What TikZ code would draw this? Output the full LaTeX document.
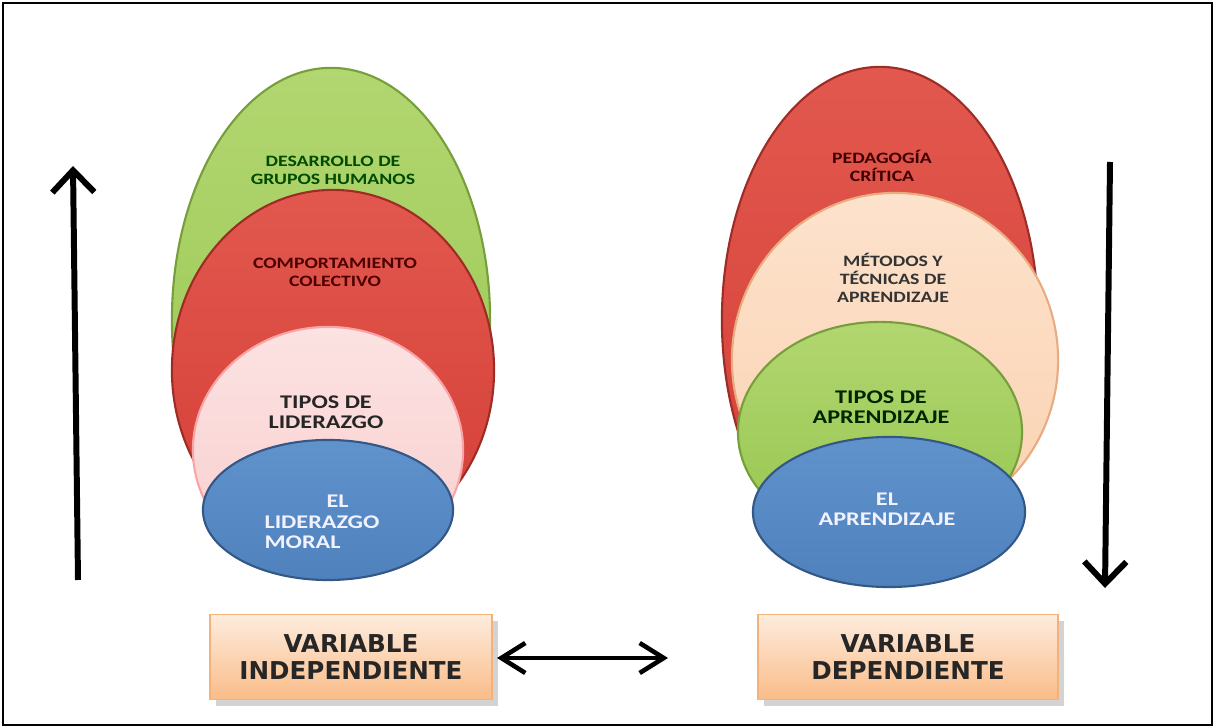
\documentclass[tikz,border=0pt]{standalone}
\usepackage{fontspec}
\usepackage{tikz}
\usetikzlibrary{shapes.geometric}
\usetikzlibrary{shadows}
\usetikzlibrary{arrows.meta}

\newfontfamily\ovalfont[FakeStretch=1.25]{Carlito}
\newfontfamily\boxfont{DejaVu Sans}

\definecolor{leafgreen}{RGB}{150,198,80}
\definecolor{leafgreenlt}{RGB}{178,214,112}
\definecolor{leafline}{RGB}{118,158,58}
\definecolor{brickred}{RGB}{212,62,54}
\definecolor{brickredlt}{RGB}{226,88,78}
\definecolor{brickline}{RGB}{158,44,38}
\definecolor{blush}{RGB}{249,206,206}
\definecolor{blushlt}{RGB}{252,226,226}
\definecolor{steelblue}{RGB}{79,129,189}
\definecolor{steelbluelt}{RGB}{96,146,204}
\definecolor{steelline}{RGB}{52,88,134}
\definecolor{peach}{RGB}{250,210,178}
\definecolor{peachlt}{RGB}{253,226,204}
\definecolor{peachline}{RGB}{232,172,128}
\definecolor{boxtop}{RGB}{253,236,222}
\definecolor{boxbot}{RGB}{250,188,136}
\definecolor{boxline}{RGB}{244,178,122}

\begin{document}
\begin{tikzpicture}[
		x=0.01cm, y=-0.01cm,
		oval/.style={ellipse, inner sep=0pt, line width=0.6pt},
		smalltext/.style={align=center, inner sep=0pt, font=\ovalfont\bfseries\fontsize{4.5}{5.1}\selectfont},
		bigtext/.style={align=center, inner sep=0pt, font=\ovalfont\bfseries\fontsize{5.5}{5.8}\selectfont},
		varbox/.style={
			shape=rectangle,
			draw=boxline,
			top color=boxtop,
			bottom color=boxbot,
			minimum height=0.85cm,
			align=center,
			drop shadow={opacity=0.35, shadow xshift=0.4ex, shadow yshift=-0.4ex},
			text=black!85,
			font=\boxfont\bfseries\fontsize{7}{7.7}\selectfont
		},
		flow/.style={line width=1.7pt, -{Straight Barb[length=0.22cm, width=0.42cm]}},
		link/.style={line width=1.3pt, {Straight Barb[length=0.24cm, width=0.3cm]}-{Straight Barb[length=0.24cm, width=0.3cm]}}
		]
		\useasboundingbox (0,0) rectangle (1215,728);
		\draw[line width=0.7pt] (3,3) rectangle (1212,725);

		% left stack
		\node[oval, draw=leafline, top color=leafgreenlt, bottom color=leafgreen, minimum width=3.18cm, minimum height=5.04cm] (grupos) at (331,320) {};
		\node[oval, draw=brickline, top color=brickredlt, bottom color=brickred, minimum width=3.22cm, minimum height=3.6cm] (colectivo) at (333,370) {};
		\node[oval, draw=blush!80!red, top color=blushlt, bottom color=blush, minimum width=2.7cm, minimum height=2.46cm] (tipolid) at (328,450) {};
		\node[oval, draw=steelline, top color=steelbluelt, bottom color=steelblue, minimum width=2.5cm, minimum height=1.4cm] (moral) at (328,510) {};

		\node[smalltext, text=green!30!black] (tgrupos) at (333,170) {DESARROLLO DE\\GRUPOS HUMANOS};
		\node[smalltext, text=red!30!black] (tcolectivo) at (335,272) {COMPORTAMIENTO\\COLECTIVO};
		\node[bigtext, text=black!85] (ttipolid) at (326,412) {TIPOS DE\\LIDERAZGO};
		\node[bigtext, text=blue!5!white, align=left] (tmoral) at (322,522) {\hspace*{0.62cm}EL\\LIDERAZGO\\MORAL};

		% right stack
		\node[oval, draw=brickline, top color=brickredlt, bottom color=brickred, minimum width=3.16cm, minimum height=5.06cm] (critica) at (880,320) {};
		\node[oval, draw=peachline, top color=peachlt, bottom color=peach, minimum width=3.26cm, minimum height=3.34cm] (metodos) at (895,360) {};
		\node[oval, draw=leafline, top color=leafgreenlt, bottom color=leafgreen, minimum width=2.84cm, minimum height=2.2cm] (tipoapr) at (880,432) {};
		\node[oval, draw=steelline, top color=steelbluelt, bottom color=steelblue, minimum width=2.72cm, minimum height=1.5cm] (aprend) at (889,512) {};

		\node[smalltext, text=red!25!black] (tcritica) at (882,166) {PEDAGOGÍA\\CRÍTICA};
		\node[smalltext, text=black!80] (tmetodos) at (893,278) {MÉTODOS Y\\TÉCNICAS DE\\APRENDIZAJE};
		\node[bigtext, text=green!15!black] (ttipoapr) at (881,407) {TIPOS DE\\APRENDIZAJE};
		\node[bigtext, text=blue!5!white] (taprend) at (887,509) {EL\\APRENDIZAJE};

		% variables
		\node[varbox, minimum width=2.82cm] (vi) at (351,657) {VARIABLE\\INDEPENDIENTE};
		\node[varbox, minimum width=3.0cm] (vd) at (908,657) {VARIABLE\\DEPENDIENTE};

		\coordinate (upbot) at (78,580);
		\coordinate (uptop) at (73,166);
		\coordinate (dntop) at (1110,162);
		\coordinate (dnbot) at (1105,588);
		\coordinate (vilink) at (497,658);
		\coordinate (vdlink) at (668,658);

		\draw[flow] (upbot) -- (uptop);
		\draw[flow] (dntop) -- (dnbot);
		\draw[link] (vilink) -- (vdlink);
	\end{tikzpicture}
\end{document}
